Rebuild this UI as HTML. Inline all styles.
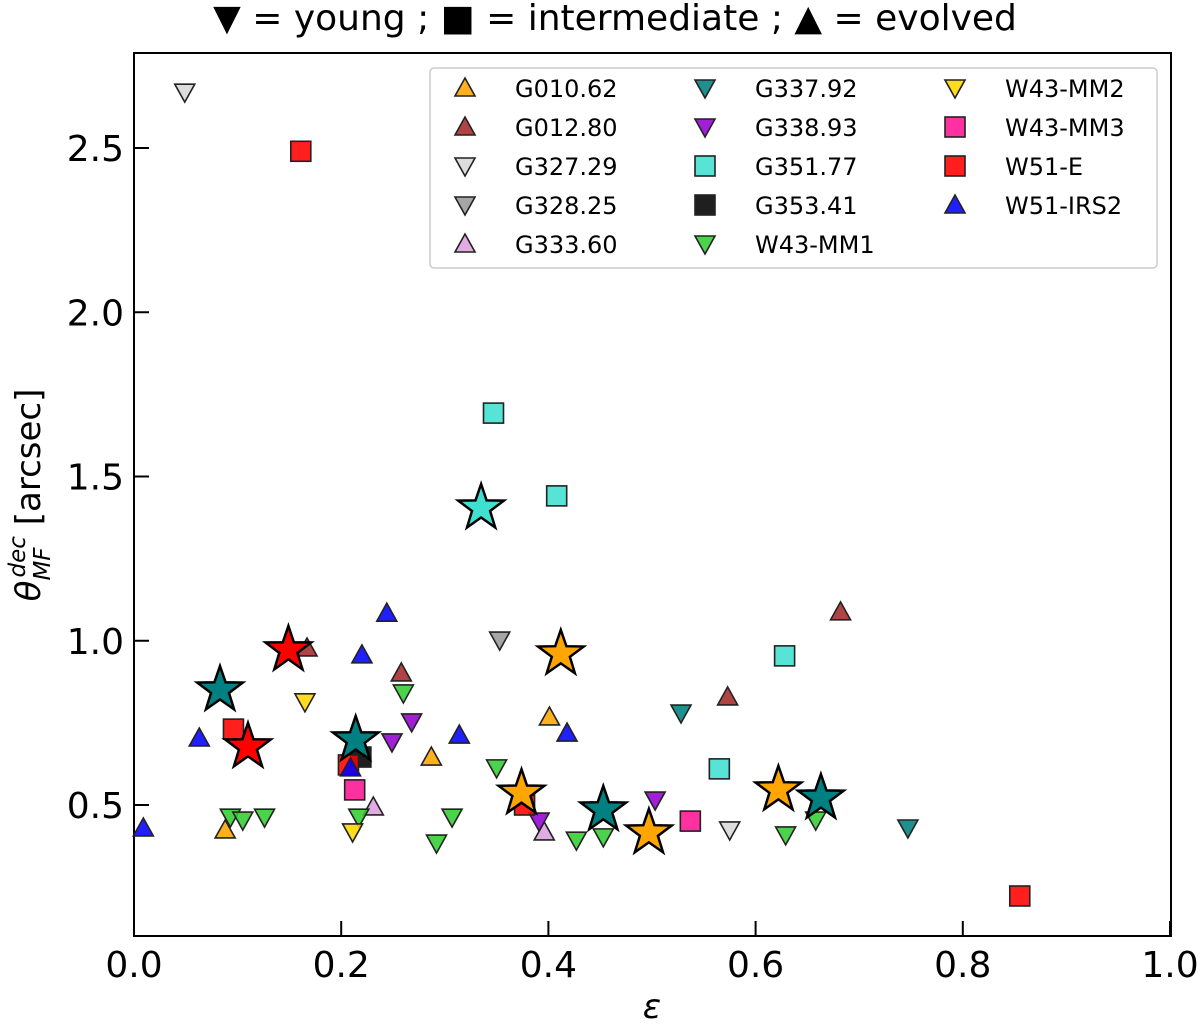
<!DOCTYPE html>
<html><head><meta charset="utf-8"><style>
body{margin:0;background:#fff;}
svg{display:block;font-family:"DejaVu Sans","Liberation Sans",sans-serif;}
</style></head><body>
<svg id="chart" width="1200" height="1024" viewBox="0 0 1200 1024" xmlns="http://www.w3.org/2000/svg">
<text x="615" y="30" font-size="36" text-anchor="middle">▼ = young ; ■ = intermediate ; ▲ = evolved</text>
<g id="axes"></g>
<g id="marks"></g>
<g id="legend"></g>
</svg>
<script>
const seriesNames=["G010.62","G012.80","G327.29","G328.25","G333.60","G337.92","G338.93","G351.77","G353.41","W43-MM1","W43-MM2","W43-MM3","W51-E","W51-IRS2"];
const seriesColors=["#FFA500","#A52A2A","#D8D8D8","#9A9A9A","#DDA0DD","#008080","#9400D3","#40E0D0","#000000","#32CD32","#FFD700","#FF1493","#FF0000","#0000FF"];
const seriesShapes=["up","up","down","down","up","down","down","sq","sq","down","down","sq","sq","up"];
const xG010=[0.088,0.287,0.401];const yG010=[0.424,0.646,0.768];
const xG012=[0.167,0.258,0.573,0.682];const yG012=[0.978,0.902,0.829,1.088];
const xG327=[0.049,0.575];const yG327=[2.67,0.424];
const xG328=[0.353];const yG328=[1.002];
const xG333=[0.231,0.396];const yG333=[0.494,0.418];
const xG337=[0.528,0.747];const yG337=[0.780,0.430];
const xG338=[0.268,0.249,0.391,0.503];const yG338=[0.753,0.692,0.451,0.515];
const xG351=[0.347,0.408,0.628,0.565];const yG351=[1.693,1.441,0.954,0.610];
const xG353=[0.219];const yG353=[0.646];
const xMM1=[0.093,0.105,0.126,0.260,0.217,0.307,0.292,0.350,0.427,0.453,0.629,0.658];
const yMM1=[0.463,0.454,0.463,0.841,0.463,0.463,0.384,0.613,0.393,0.403,0.409,0.454];
const xMM2=[0.165,0.211];const yMM2=[0.814,0.418];
const xMM3=[0.213,0.537];const yMM3=[0.546,0.451];
const xW51E=[0.161,0.096,0.207,0.377,0.855];const yW51E=[2.49,0.731,0.622,0.500,0.223];
const xIRS2=[0.009,0.063,0.244,0.220,0.209,0.314,0.418];const yIRS2=[0.430,0.704,1.084,0.957,0.613,0.713,0.719];
const seriesX=[xG010,xG012,xG327,xG328,xG333,xG337,xG338,xG351,xG353,xMM1,xMM2,xMM3,xW51E,xIRS2];
const seriesY=[yG010,yG012,yG327,yG328,yG333,yG337,yG338,yG351,yG353,yMM1,yMM2,yMM3,yW51E,yIRS2];
const starX=[0.412,0.374,0.497,0.622,0.083,0.214,0.453,0.663,0.335,0.149,0.110];
const starY=[0.960,0.536,0.415,0.546,0.850,0.698,0.485,0.521,1.404,0.972,0.677];
const starColors=["#FFA500","#FFA500","#FFA500","#FFA500","#008080","#008080","#008080","#008080","#40E0D0","#FF0000","#FF0000"];
const xTicks=[0,0.2,0.4,0.6,0.8,1.0];const xTickLabels=["0.0","0.2","0.4","0.6","0.8","1.0"];
const yTicks=[0.5,1.0,1.5,2.0,2.5];const yTickLabels=["0.5","1.0","1.5","2.0","2.5"];

const L=134,R=1171,T=53,B=936;
const sx=v=>L+v*1036;
const sy=v=>805-(v-0.5)*328.5;
const NS="http://www.w3.org/2000/svg";
function mk(tag,attrs,parent){const e=document.createElementNS(NS,tag);for(const k in attrs)e.setAttribute(k,attrs[k]);parent.appendChild(e);return e;}
const axes=document.getElementById('axes'),marks=document.getElementById('marks'),legend=document.getElementById('legend');
const frame=mk('rect',{x:L,y:T,width:R-L,height:B-T,fill:'none',stroke:'#000','stroke-width':2},axes);


xTicks.forEach((t,i)=>{
 const ln=mk('line',{x1:sx(t),x2:sx(t),y1:B,y2:B-15,stroke:'#000','stroke-width':2},axes);
 
 
 const tx=mk('text',{x:sx(t),y:977,'font-size':36,'text-anchor':'middle'},axes);tx.textContent=xTickLabels[i];
 
 
});
yTicks.forEach((t,i)=>{
 const ln=mk('line',{x1:L,x2:L+15,y1:sy(t),y2:sy(t),stroke:'#000','stroke-width':2},axes);
 
 
 const tx=mk('text',{x:124,y:sy(t)+13,'font-size':36,'text-anchor':'end'},axes);tx.textContent=yTickLabels[i];
 
 
});
const xl=mk('text',{x:652,y:1018,'font-size':34,'text-anchor':'middle','font-style':'italic'},axes);xl.textContent='ε';


const yl=mk('text',{transform:'translate(40,495) rotate(-90)','font-size':34,'text-anchor':'middle'},axes);
yl.innerHTML='<tspan font-style="italic">θ</tspan><tspan font-size="23" font-style="italic" dy="10">MF</tspan><tspan font-size="23" font-style="italic" dx="-30" dy="-25">dec</tspan><tspan dy="15"> [arcsec]</tspan>';



function shape(kind,x,y,color,parent,s){
 s=s||1;let e;
 const st={fill:color,'fill-opacity':0.88,stroke:'#222','stroke-width':1.6};
 if(kind==='up')e=mk('polygon',Object.assign({points:`${x-10*s},${y+8*s} ${x+10*s},${y+8*s} ${x},${y-10*s}`},st),parent);
 else if(kind==='down')e=mk('polygon',Object.assign({points:`${x-10*s},${y-8*s} ${x+10*s},${y-8*s} ${x},${y+10*s}`},st),parent);
 else e=mk('rect',Object.assign({x:x-10*s,y:y-10*s,width:20*s,height:20*s},st),parent);
 return e;
}
seriesNames.forEach((n,i)=>{
 seriesX[i].forEach((v,j)=>{
  const e=shape(seriesShapes[i],sx(v),sy(seriesY[i][j]),seriesColors[i],marks);
  
  
 });
});
starX.forEach((v,i)=>{
 const cx=sx(v),cy=sy(starY[i]);let p=[];
 for(let k=0;k<10;k++){const r=k%2?9.5:24;const a=-Math.PI/2+k*Math.PI/5;p.push((cx+r*Math.cos(a)).toFixed(1)+','+(cy+r*Math.sin(a)).toFixed(1));}
 const e=mk('polygon',{points:p.join(' '),fill:starColors[i],stroke:'#000','stroke-width':2.5,'stroke-linejoin':'miter'},marks);
 
 
});
const lb=mk('rect',{x:430,y:68,width:727,height:200,rx:4,fill:'#fff',stroke:'#ccc','stroke-width':1.5},legend);


const colX=[465,705,955];
seriesNames.forEach((n,i)=>{
 const c=Math.floor(i/5),r=i%5;const y=88+r*39;
 const g=mk('g',{},legend);
 
 
 shape(seriesShapes[i],colX[c],y,seriesColors[i],g);
 const t=mk('text',{x:colX[c]+50,y:y+9,'font-size':24},g);t.textContent=n;
});
</script>
</body></html>
